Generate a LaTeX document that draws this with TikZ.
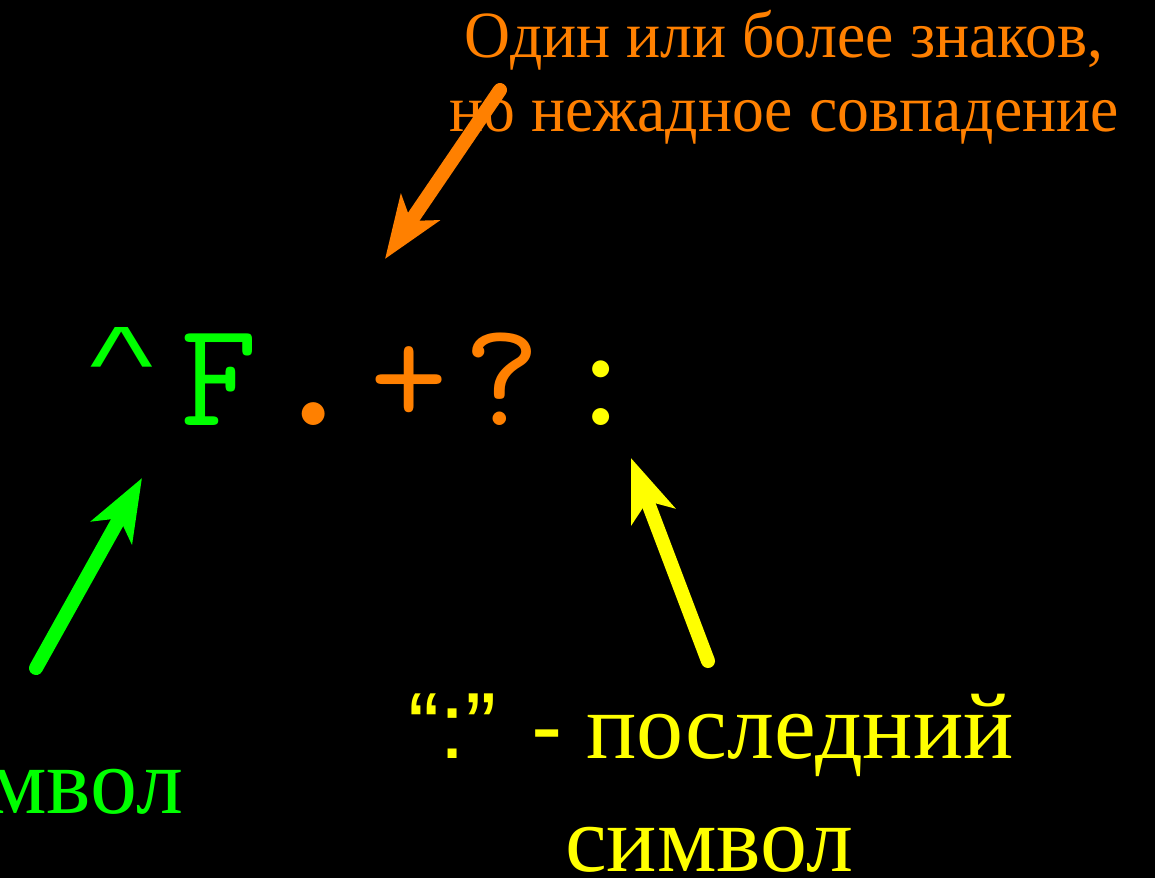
\documentclass[tikz,border=0pt]{standalone}
\usepackage{fontspec}
\usepackage{graphicx}
\setmainfont{Liberation Serif}
\newfontfamily\lsans{Liberation Sans}
\newfontfamily\lmono{Liberation Mono}
\usetikzlibrary{arrows.meta}
\definecolor{grn}{RGB}{0,255,0}
\definecolor{org}{RGB}{255,128,0}
\definecolor{ylw}{RGB}{255,255,0}
\tikzset{
  lbl/.style={inner sep=0pt, outer sep=0pt},
  toptext/.style={lbl, anchor=base, text=org, font=\fontsize{66}{74}\selectfont},
  bigtext/.style={lbl, anchor=base, text depth=0pt, font=\fontsize{94}{100}\selectfont},
  rx/.style={lbl, anchor=base, font=\fontsize{150}{150}\selectfont\ttfamily},
  pointer/.style={line width=14pt, line cap=round,
    -{Stealth[length=62pt,width=46pt,inset=16pt]}},
}
\begin{document}
\begin{tikzpicture}[x=1pt,y=-1pt]
\fill[black] (0,0) rectangle (1155,878);
\useasboundingbox (0,0) rectangle (1155,878);

% top explanation
\node[toptext] (t1) at (784,57) {\scalebox{0.965}[1]{Один или более знаков,}};
\node[toptext] (t2) at (784,131) {\scalebox{0.965}[1]{но нежадное совпадение}};

% regex characters
\node[rx, text=grn, font=\fontsize{160}{160}\selectfont\lmono] (r1) at (122,386) {\scalebox{0.82}[0.56]{\textasciicircum}};
\node[rx, text=grn] (r2) at (219,425) {F};
\node[rx, text=org] (r3) at (314,425) {\scalebox{1.35}{.}};
\node[rx, text=org] (r4) at (409,425) {+};
\node[rx, text=org] (r5) at (502,425) {?};
\node[rx, text=ylw] (r6) at (601,425) {:};

% bottom labels
\node[bigtext, text=grn, anchor=base east] (g1) at (183,813) {мвол};
\node[bigtext, text=ylw, anchor=base west] (y1) at (408,758) {{\lsans “:” -} последний};
\node[bigtext, text=ylw] (y2) at (709,871) {символ};

% arrows
\coordinate (otail) at (500,90);
\coordinate (otip) at (385,259);
\coordinate (gtail) at (36,668);
\coordinate (gtip) at (142,478);
\coordinate (ytail) at (708,661);
\coordinate (ytip) at (631,458);
\draw[pointer, org] (otail) -- (otip);
\draw[pointer, grn] (gtail) -- (gtip);
\draw[pointer, ylw] (ytail) -- (ytip);
\end{tikzpicture}
\end{document}
